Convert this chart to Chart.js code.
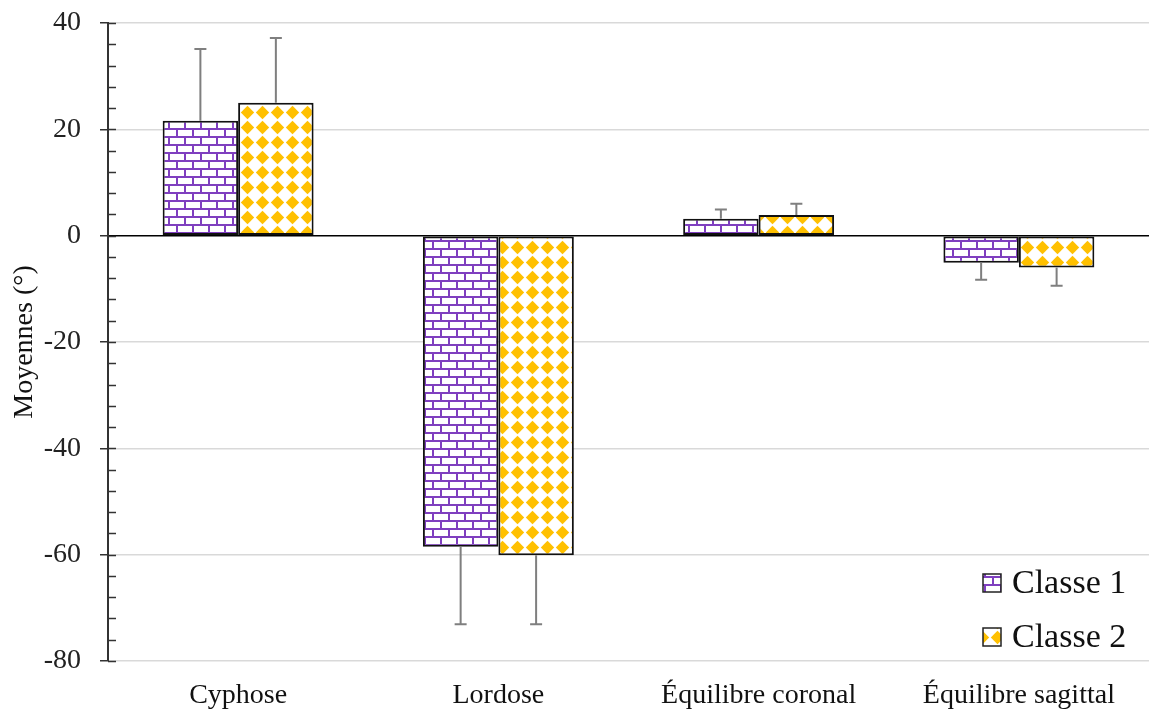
<!DOCTYPE html>
<html>
<head>
<meta charset="utf-8">
<script src="https://cdn.jsdelivr.net/npm/chart.js@4/dist/chart.umd.min.js"></script>
<style>
    html, body { margin: 0; padding: 0; background: #fff; }
    #wrap { width: 1149px; height: 714px; }
</style>
</head>
<body>
<div id="wrap"><canvas id="barChart"></canvas></div>
<script>
// data
var categories = ['Cyphose', 'Lordose', 'Équilibre coronal', 'Équilibre sagittal'];
var seriesNames = ['Classe 1', 'Classe 2'];
var classe1 = [21.6, -58.5, 3.2, -5.1];
var classe2 = [25.0, -60.1, 3.9, -6.0];
var erreur1 = [13.5, 14.6, 1.7, 3.2];
var erreur2 = [12.2, 13.0, 2.1, 3.4];
var yTicks = [40, 20, 0, -20, -40, -60, -80];

var FONT = "'Liberation Serif', 'Times New Roman', serif";
var PURPLE = '#7F3FBF';
var YELLOW = '#FFC000';

// brick pattern (purple lines on white)
function brickPattern() {
    var c = document.createElement('canvas');
    c.width = 16; c.height = 16;
    var g = c.getContext('2d');
    g.fillStyle = '#fff';
    g.fillRect(0, 0, 16, 16);
    g.fillStyle = PURPLE;
    g.fillRect(0, 0, 16, 2);
    g.fillRect(0, 8, 16, 2);
    g.fillRect(0, 0, 2, 8);
    g.fillRect(8, 8, 2, 8);
    return g.createPattern(c, 'repeat');
}

// yellow diamonds on white
function diamondPattern() {
    var c = document.createElement('canvas');
    c.width = 15; c.height = 15;
    var g = c.getContext('2d');
    g.fillStyle = '#fff';
    g.fillRect(0, 0, 15, 15);
    g.fillStyle = YELLOW;
    g.beginPath();
    g.moveTo(7.5, 0.8);
    g.lineTo(14.2, 7.5);
    g.lineTo(7.5, 14.2);
    g.lineTo(0.8, 7.5);
    g.closePath();
    g.fill();
    return g.createPattern(c, 'repeat');
}

var fills = [brickPattern(), diamondPattern()];
var errors = [erreur1, erreur2];

// one-sided error bars, drawn outward from the bar end
var errorBars = {
    id: 'errorBars',
    afterDatasetsDraw: function(chart) {
        var ctx = chart.ctx;
        var y = chart.scales.y;
        ctx.save();
        ctx.strokeStyle = '#7f7f7f';
        ctx.lineWidth = 2;
        chart.data.datasets.forEach(function(ds, i) {
            var meta = chart.getDatasetMeta(i);
            meta.data.forEach(function(bar, j) {
                var v = ds.data[j];
                var end = v >= 0 ? v + errors[i][j] : v - errors[i][j];
                var y0 = y.getPixelForValue(v);
                var y1 = y.getPixelForValue(end);
                ctx.beginPath();
                ctx.moveTo(bar.x, y0);
                ctx.lineTo(bar.x, y1);
                ctx.moveTo(bar.x - 6, y1);
                ctx.lineTo(bar.x + 6, y1);
                ctx.stroke();
            });
        });
        ctx.restore();
    }
};

// minor ticks every 4 units, on the inner side of the axis
var minorTicks = {
    id: 'minorTicks',
    afterDraw: function(chart) {
        var ctx = chart.ctx;
        var y = chart.scales.y;
        var x0 = chart.chartArea.left;
        ctx.save();
        ctx.strokeStyle = '#333';
        ctx.lineWidth = 1.5;
        for (var v = y.min; v <= y.max; v += 4) {
            var py = Math.round(y.getPixelForValue(v)) + 0.5;
            ctx.beginPath();
            ctx.moveTo(x0, py);
            ctx.lineTo(x0 + 8, py);
            ctx.stroke();
        }
        ctx.restore();
    }
};

// legend inside the plot, bottom right
var insideLegend = {
    id: 'insideLegend',
    afterDraw: function(chart) {
        var ctx = chart.ctx;
        var area = chart.chartArea;
        ctx.save();
        ctx.font = '34px ' + FONT;
        ctx.textBaseline = 'middle';
        seriesNames.forEach(function(name, i) {
            var bx = area.right - 166;
            var by = area.bottom - 87 + i * 54;
            ctx.fillStyle = fills[i];
            ctx.fillRect(bx, by, 18, 18);
            ctx.strokeStyle = '#222';
            ctx.lineWidth = 1.5;
            ctx.strokeRect(bx, by, 18, 18);
            ctx.fillStyle = '#111';
            ctx.fillText(name, bx + 29, by + 10);
        });
        ctx.restore();
    }
};

var ctx = document.getElementById('barChart').getContext('2d');
var barChart = new Chart(ctx, {
    type: 'bar',
    data: {
        labels: categories,
        datasets: [{
                label: seriesNames[0],
                data: classe1,
                backgroundColor: fills[0],
                borderColor: '#111',
                borderWidth: 2,
                borderSkipped: false
            },
            {
                label: seriesNames[1],
                data: classe2,
                backgroundColor: fills[1],
                borderColor: '#111',
                borderWidth: 2,
                borderSkipped: false
            }
        ]
    },
    options: {
        responsive: true,
        maintainAspectRatio: false,
        animation: false,
        layout: {
            padding: { top: 23, right: 0, bottom: 0, left: 0 }
        },
        datasets: {
            bar: { categoryPercentage: 0.58, barPercentage: 1 }
        },
        plugins: {
            legend: { display: false },
            tooltip: { enabled: false }
        },
        scales: {
            x: {
                grid: { display: false },
                border: { display: false },
                ticks: {
                    color: '#111',
                    font: { family: FONT, size: 28 },
                    padding: 10,
                    maxRotation: 0
                },
                afterFit: function(scale) {
                    scale.height = 53;
                    scale.paddingLeft = 0;
                    scale.paddingRight = 0;
                }
            },
            y: {
                min: -80,
                max: 40,
                afterBuildTicks: function(scale) {
                    scale.ticks = yTicks.map(function(v) { return { value: v }; });
                },
                border: { display: true, color: '#333', width: 2 },
                grid: {
                    color: function(c) { return c.tick && c.tick.value === 0 ? '#000' : '#d9d9d9'; },
                    lineWidth: 1.5,
                    tickColor: '#333',
                    tickLength: 8
                },
                ticks: {
                    color: '#222',
                    font: { family: FONT, size: 28 },
                    padding: 19
                },
                title: {
                    display: true,
                    text: 'Moyennes (°)',
                    color: '#111',
                    font: { family: FONT, size: 28 },
                    padding: { top: 8, bottom: 0 }
                },
                afterFit: function(scale) {
                    scale.width = 108;
                    scale.paddingTop = 0;
                    scale.paddingBottom = 0;
                }
            }
        }
    },
    plugins: [errorBars, minorTicks, insideLegend]
});
</script>
</body>
</html>
